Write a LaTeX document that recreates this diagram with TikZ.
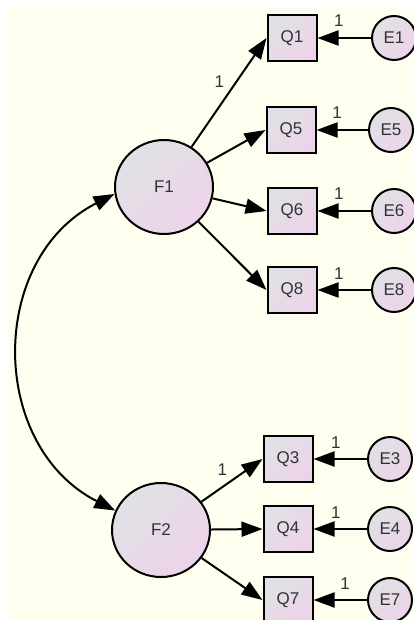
\documentclass[tikz,border=0pt]{standalone}
\usepackage{fontspec}
\setmainfont{Liberation Sans}
\usetikzlibrary{arrows.meta,shapes.geometric}
\definecolor{paper}{RGB}{255,255,240}
\definecolor{shadegray}{RGB}{224,225,228}
\definecolor{shadepink}{RGB}{237,211,234}
\definecolor{ink}{RGB}{50,50,50}

\begin{document}
\begin{tikzpicture}[x=1pt,y=1pt,line width=2pt,
    fillshade/.style={top color=shadegray,bottom color=shadepink,shading angle=45},
    latent/.style={ellipse,draw,fillshade,minimum width=98pt,minimum height=94pt},
    observed/.style={rectangle,draw,fillshade,minimum width=49pt,minimum height=46pt},
    error/.style={circle,draw,fillshade,minimum size=44pt},
    path/.style={-{Triangle[length=21pt,width=15pt]}},
    cov/.style={{Triangle[length=21pt,width=15pt]}-{Triangle[length=21pt,width=15pt]}}]
    \tikzstyle{every node}+=[inner sep=0pt,text=ink,font=\fontsize{17}{20}\selectfont]
    \path[use as bounding box,clip] (0,0) rectangle (414,-620);
    \fill [white] (0,0) rectangle (414,-620);
    \fill [paper] (8,-8) rectangle (414,-620);
    \node [latent] (F1) at (164,-187) {F1};
    \node [latent] (F2) at (161,-530) {F2};
    \node [observed] (Q1) at (292,-38) {Q1};
    \node [observed] (Q5) at (291,-130) {Q5};
    \node [observed] (Q6) at (292,-211) {Q6};
    \node [observed] (Q8) at (292,-290) {Q8};
    \node [observed] (Q3) at (288,-459) {Q3};
    \node [observed] (Q4) at (288,-529) {Q4};
    \node [observed] (Q7) at (288,-600) {Q7};
    \node [error] (E1) at (394,-38) {E1};
    \node [error] (E5) at (391,-130) {E5};
    \node [error] (E6) at (394,-211) {E6};
    \node [error] (E8) at (394,-290) {E8};
    \node [error] (E3) at (390,-459) {E3};
    \node [error] (E4) at (390,-529) {E4};
    \node [error] (E7) at (390,-600) {E7};
    \draw [cov] (F1.188) to [out=207,in=153,looseness=1.15] (F2.157);
    \draw [path] (F1) -- (Q1.west) node [pos=0.5,above left=4pt] {1};
    \draw [path] (F1) -- (Q5.west);
    \draw [path] (F1) -- (Q6.west);
    \draw [path] (F1) -- (Q8.west);
    \draw [path] (F2) -- (Q3.west) node [pos=0.5,above left=4pt] {1};
    \draw [path] (F2) -- (Q4.west);
    \draw [path] (F2) -- (Q7.west);
    \draw [path] (E1) -- (Q1.east) node [pos=0.6,above=10pt] {1};
    \draw [path] (E5) -- (Q5.east) node [pos=0.6,above=10pt] {1};
    \draw [path] (E6) -- (Q6.east) node [pos=0.6,above=10pt] {1};
    \draw [path] (E8) -- (Q8.east) node [pos=0.6,above=10pt] {1};
    \draw [path] (E3) -- (Q3.east) node [pos=0.58,above=10pt] {1};
    \draw [path] (E4) -- (Q4.east) node [pos=0.58,above=10pt] {1};
    \draw [path] (E7) -- (Q7.east) node [pos=0.41,above=10pt] {1};
\end{tikzpicture}
\end{document}
